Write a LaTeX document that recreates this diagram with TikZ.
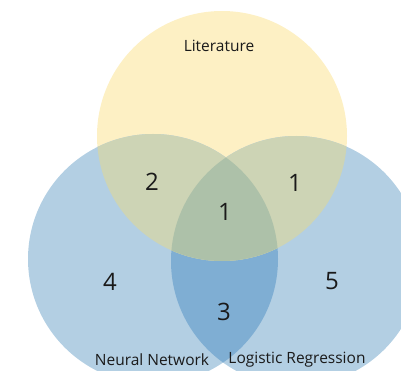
\documentclass[tikz,border=0pt]{standalone}
\usepackage{fontspec}
\setmainfont{Open Sans}
\usepackage{tikz}
\usetikzlibrary{positioning}

\definecolor{litY}{HTML}{FDF0C4}
\definecolor{netB}{HTML}{B3CFE3}
\definecolor{bothB}{HTML}{7FAED3}
\definecolor{mixYB}{HTML}{CDD4B5}
\definecolor{allC}{HTML}{ADC1A9}
\definecolor{txt}{HTML}{1A1A1A}

\tikzset{
  setlabel/.style={font=\fontsize{15.5}{17}\selectfont, text=txt, inner sep=1pt},
  count/.style={font=\fontsize{24}{27}\selectfont, text=txt, inner sep=1pt}
}

\begin{document}
\begin{tikzpicture}[x=1pt, y=1pt]
    \useasboundingbox (0,0) rectangle (401,370);
    \clip (0,0) rectangle (401,370);
    \coordinate (lit) at (222,234);
    \coordinate (nn) at (153,111);
    \coordinate (lr) at (296,109);

    % the three sets
    \fill[litY] (lit) circle[radius=125pt];
    \fill[netB] (nn) circle[radius=125pt];
    \fill[netB] (lr) circle[radius=125pt];

    % overlaps
    \begin{scope}
      \clip (nn) circle[radius=125pt];
      \fill[bothB] (lr) circle[radius=125pt];
      \fill[mixYB] (lit) circle[radius=125pt];
    \end{scope}
    \begin{scope}
      \clip (lr) circle[radius=125pt];
      \fill[mixYB] (lit) circle[radius=125pt];
      \clip (nn) circle[radius=125pt];
      \fill[allC] (lit) circle[radius=125pt];
    \end{scope}

    \node[setlabel] (litname) at (219,324) {Literature};
    \node[setlabel] (nnname) at (152,10) {Neural Network};
    \node[setlabel] (lrname) at (297,10) {Logistic Regression};

    \node[count] (litnn) at (152,188) {2};
    \node[count] (litlr) at (295,187) {1};
    \node[count] (all) at (225,158) {1};
    \node[count] (nnonly) at (110,88) {4};
    \node[count] (lronly) at (332,89) {5};
    \node[count] (nnlr) at (224,58) {3};
  \end{tikzpicture}
\end{document}
